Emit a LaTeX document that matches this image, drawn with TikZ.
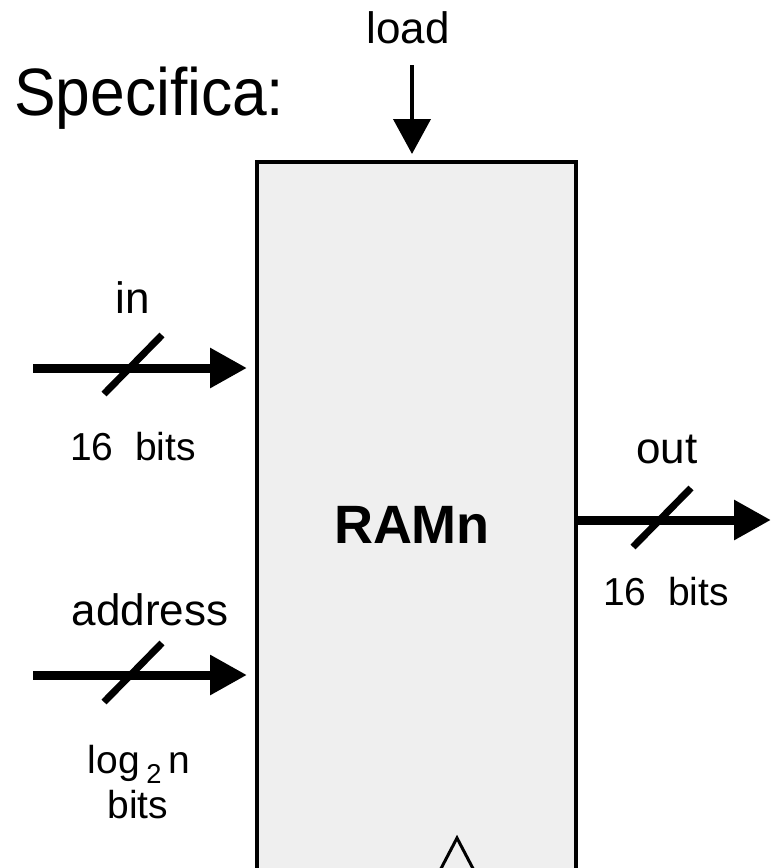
\documentclass[tikz,border=0pt]{standalone}
\usepackage{fontspec}
\setmainfont{Liberation Sans}
\usetikzlibrary{arrows.meta,positioning}
\definecolor{chipgray}{HTML}{EFEFEF}
\tikzset{
  bus/.style={line width=9pt,-{Triangle[length=37pt,width=38pt]}},
  ctrl/.style={line width=4pt,-{Triangle[length=35pt,width=37pt]}},
  slash/.style={line width=7pt},
  signame/.style={anchor=base,inner sep=0pt,font=\fontsize{44}{50}\selectfont},
  buswidth/.style={anchor=base,inner sep=0pt,font=\fontsize{39}{44}\selectfont},
}

\begin{document}
\begin{tikzpicture}[x=1pt,y=-1pt]
        \useasboundingbox (0,0) rectangle (771,868);
        \clip (0,0) rectangle (771,868);

        % Title and the chip itself
        \node[anchor=base west,inner sep=0pt,font=\fontsize{67}{72}\selectfont] (title) at (14,115) {\scalebox{0.93}[1]{Specifica:}};
        \node[draw,line width=4.5pt,fill=chipgray,inner sep=0pt,outer sep=0pt,minimum width=319pt,minimum height=800pt,anchor=north west] (ram) at (257,162) {};
        \node[anchor=base,inner sep=0pt,font=\fontsize{54}{60}\selectfont\bfseries] (chipname) at (412,543) {RAMn};

        % Clock input at the bottom
        \draw[line width=3pt] (435,880)--(457,838)--(479,880);

        % Ports
        \coordinate (loadS) at (412,65);
        \coordinate (inS) at (33,368);
        \coordinate (addrS) at (33,675);
        \coordinate (outE) at (771,520);
        \draw[ctrl,shorten >=8pt] (loadS) -- (loadS |- ram.north);
        \draw[bus,shorten >=10pt] (inS) -- (inS -| ram.west);
        \draw[bus,shorten >=10pt] (addrS) -- (addrS -| ram.west);
        \draw[bus] (outE -| ram.east) -- (outE);

        % Bus slashes
        \coordinate (inM) at (133,365);
        \coordinate (addrM) at (133,673);
        \coordinate (outM) at (662,518);
        \foreach \m in {inM,addrM,outM}
          \draw[slash] ([shift={(-29,29)}]\m) -- ([shift={(29,-30)}]\m);

        % Labels
        \node[signame] (loadL) at (408,43) {load};
        \node[signame] (inL) at (133,313) {in};
        \node[buswidth] (inW) at (133,460) {16\ \ bits};
        \node[signame] (addrL) at (150,625) {address};
        \node[buswidth] (addrW) at (139,773) {log\,\textsubscript{2}\,n};
        \node[buswidth] (addrB) at (138,818) {bits};
        \node[signame] (outL) at (667,463) {out};
        \node[buswidth] (outW) at (666,605) {16\ \ bits};
\end{tikzpicture}
\end{document}
